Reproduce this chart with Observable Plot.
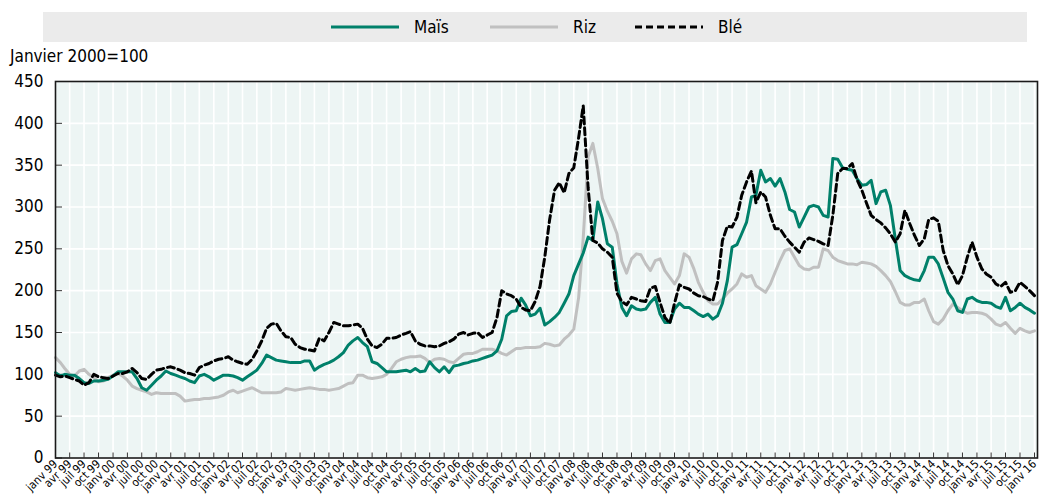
<!DOCTYPE html>
<html>
<head>
<meta charset="utf-8">
<script src="https://cdn.jsdelivr.net/npm/d3@7"></script>
<script src="https://cdn.jsdelivr.net/npm/@observablehq/plot@0.6"></script>
<style>
  body { margin: 0; background: #fff; }
  #wrap { position: relative; width: 1044px; height: 503px; overflow: hidden;
          font-family: "Liberation Sans Narrow", "Arial Narrow", "DejaVu Sans Condensed", sans-serif; }
  #legend { position: absolute; left: 43px; top: 12px; width: 984px; height: 30px; background: #ebebeb; }
  .item { position: absolute; top: 0; height: 30px; display: flex; align-items: center; font-size: 17px; color: #000; }
  .item svg { margin-right: 15px; }
  #unit { position: absolute; left: 10px; top: 46px; font-size: 17px; color: #000; }
  #chart { position: absolute; left: 0; top: 42px; }
</style>
</head>
<body>
<div id="wrap">
  <div id="legend"></div>
  <div id="unit">Janvier 2000=100</div>
  <div id="chart"></div>
</div>
<script>
// ---- Data (monthly, janv 1999 .. janv 2016), Janvier 2000 = 100 ----
const seriesNames = ["Maïs", "Riz", "Blé"];
const seriesColors = ["#00806a", "#c0c0c0", "#000000"];

const mais = [
  102, 98, 100, 99, 99, 95, 90, 89, 92, 92, 93, 94,        // 1999
  98, 103, 103, 103, 103, 95, 84, 81, 87, 93, 98, 104,      // 2000
  101, 99, 97, 95, 92, 90, 98, 100, 97, 93, 96, 99,         // 2001
  99, 98, 96, 93, 97, 101, 105, 113, 123, 120, 117, 116,    // 2002
  115, 114, 114, 114, 116, 116, 105, 109, 112, 114, 117, 121, // 2003
  126, 135, 140, 144, 138, 133, 115, 113, 108, 103, 103, 103, // 2004
  104, 105, 103, 107, 103, 104, 115, 108, 103, 109, 102, 110, // 2005
  111, 113, 114, 116, 117, 119, 121, 123, 128, 142, 170, 175, // 2006
  176, 191, 183, 170, 172, 179, 159, 163, 168, 174, 185, 196, // 2007
  218, 232, 245, 264, 260, 306, 286, 256, 252, 208, 180, 170, // 2008
  182, 178, 177, 178, 186, 192, 172, 162, 162, 178, 185, 180, // 2009
  180, 176, 172, 169, 172, 166, 170, 185, 212, 252, 255, 268, // 2010
  282, 312, 314, 344, 330, 334, 325, 334, 318, 297, 294, 276, // 2011
  288, 300, 302, 300, 290, 288, 358, 357, 347, 345, 344, 334, // 2012
  326, 327, 332, 304, 318, 320, 302, 262, 224, 218, 215, 213, // 2013
  212, 224, 240, 240, 232, 215, 198, 190, 176, 174, 190, 192, // 2014
  188, 186, 186, 185, 181, 179, 192, 176, 180, 185, 180, 177, // 2015
  173                                                          // 2016
];
const riz = [
  120, 114, 107, 100, 98, 104, 106, 100, 96, 91, 92, 96,
  99, 101, 98, 93, 86, 83, 81, 79, 76, 78, 77, 77,
  77, 77, 74, 68, 69, 70, 70, 71, 71, 72, 73, 75,
  79, 81, 78, 80, 82, 84, 81, 78, 78, 78, 78, 79,
  83, 82, 81, 82, 83, 84, 83, 82, 82, 81, 82, 83,
  86, 89, 90, 99, 99, 96, 95, 96, 97, 100, 107, 115,
  118, 120, 121, 121, 122, 119, 114, 118, 119, 118, 115, 114,
  119, 124, 125, 125, 127, 130, 130, 130, 128, 125, 123, 127,
  131, 131, 132, 132, 132, 133, 137, 136, 134, 135, 142, 147,
  154, 192, 263, 360, 376, 346, 310, 295, 283, 268, 235, 221,
  238, 244, 243, 232, 224, 236, 238, 224, 216, 208, 218, 244,
  240, 226, 210, 198, 188, 184, 184, 190, 197, 202, 208, 220,
  216, 218, 206, 202, 198, 208, 222, 236, 248, 250, 240, 230,
  226, 225, 228, 228, 250, 248, 240, 236, 234, 232, 232, 231,
  234, 233, 232, 229, 224, 218, 211, 199, 186, 183, 183, 186,
  186, 190, 176, 163, 160, 166, 176, 184, 180, 176, 173, 174,
  174, 173, 171, 166, 160, 158, 162, 155, 149, 155, 152, 150,
  152
];
const ble = [
  99, 97, 98, 96, 94, 92, 87, 90, 100, 97, 96, 95,
  98, 101, 101, 103, 107, 102, 95, 94, 100, 105, 106, 108,
  109, 107, 105, 102, 101, 99, 108, 111, 113, 116, 118, 119,
  121, 117, 115, 113, 112, 118, 128, 140, 155, 160, 161, 152,
  145, 144, 136, 132, 130, 129, 128, 143, 140, 150, 162, 160,
  158, 158, 159, 160, 155, 142, 134, 132, 136, 143, 143, 144,
  147, 149, 151, 140, 136, 134, 134, 133, 134, 137, 139, 142,
  148, 150, 147, 149, 150, 144, 147, 150, 168, 200, 196, 194,
  190, 180, 177, 176, 187, 205, 240, 285, 320, 329, 317, 340,
  347, 383, 421, 323, 260, 257, 250, 246, 240, 197, 187, 183,
  192, 190, 188, 187, 203, 205, 186, 168, 161, 185, 207, 204,
  202, 197, 194, 193, 190, 188, 210, 260, 277, 276, 288, 314,
  330, 343, 305, 318, 312, 290, 274, 274, 265, 258, 252, 246,
  258, 263, 261, 259, 256, 254, 290, 340, 346, 346, 352, 333,
  320, 304, 290, 285, 281, 275, 268, 258, 268, 296, 280, 266,
  254, 262, 285, 287, 283, 248, 230, 220, 207, 218, 240, 258,
  240, 226, 220, 216, 208, 205, 210, 198, 200, 210, 205, 200,
  194
];
const moisLabels = ["janv", "avr", "juil", "oct"];
const yTicks = [0, 50, 100, 150, 200, 250, 300, 350, 400, 450];

// ---- Layout ----
const FONT = '"Liberation Sans Narrow", "Arial Narrow", "DejaVu Sans Condensed", sans-serif';
const W = 1044, H = 461;
const mTop = 39, mBottom = 45.5, mLeft = 55, mRight = 10;
const plotW = W - mLeft - mRight, plotH = H - mTop - mBottom;

const start = new Date(Date.UTC(1999, 0, 1));
const end = new Date(Date.UTC(2016, 0, 1));
const months = d3.utcMonth.range(start, d3.utcMonth.offset(end, 1));
const quarters = d3.utcMonth.every(3).range(start, d3.utcMonth.offset(end, 1));
const fmt = d => moisLabels[Math.floor(d.getUTCMonth() / 3)] + " " + String(d.getUTCFullYear() % 100).padStart(2, "0");

const chart = Plot.plot({
  width: W, height: H,
  marginTop: mTop, marginBottom: mBottom, marginLeft: mLeft, marginRight: mRight,
  style: { fontFamily: FONT, background: "transparent", overflow: "visible", color: "#000" },
  x: { type: "utc", domain: [start, end] },
  y: { domain: [0, 450] },
  marks: [
    Plot.frame({ fill: "#edf5f4", stroke: null, insetRight: -3 }),
    Plot.gridY(yTicks, { stroke: "#fff", strokeOpacity: 1, strokeWidth: 1.6 }),
    Plot.gridX(quarters, { stroke: "#fff", strokeOpacity: 1, strokeWidth: 1.6 }),
    Plot.tickY(yTicks, { y: d => d, stroke: "#333", strokeWidth: 1, insetRight: plotW - 7 }),
    Plot.tickX(quarters, { x: d => d, stroke: "#333", strokeWidth: 1, insetTop: plotH - 5 }),
    Plot.axisY(yTicks, { tickSize: 0, tickPadding: 12, fontSize: 17, label: null }),
    Plot.axisX(quarters, { tickSize: 0, tickPadding: 4, tickRotate: -45, tickFormat: fmt, fontSize: 11.5, label: null }),
    Plot.lineY(riz, { x: (d, i) => months[i], y: d => d, stroke: seriesColors[1], strokeWidth: 3 }),
    Plot.lineY(mais, { x: (d, i) => months[i], y: d => d, stroke: seriesColors[0], strokeWidth: 3 }),
    Plot.lineY(ble, { x: (d, i) => months[i], y: d => d, stroke: seriesColors[2], strokeWidth: 3, strokeDasharray: "7,4" }),
    Plot.frame({ stroke: "#1a1a1a", strokeWidth: 1.6, insetRight: -3 })
  ]
});
document.getElementById("chart").appendChild(chart);

// ---- Legend ----
const legend = document.getElementById("legend");
const legendLeft = [288, 447, 592];
seriesNames.forEach((name, i) => {
  const it = document.createElement("div");
  it.className = "item";
  it.style.left = legendLeft[i] + "px";
  const dash = i === 2 ? ' stroke-dasharray="7,4"' : "";
  it.innerHTML = `<svg width="68" height="6"><line x1="0" x2="68" y1="3" y2="3" stroke="${seriesColors[i]}" stroke-width="3"${dash}/></svg><span>${name}</span>`;
  legend.appendChild(it);
});
</script>
</body>
</html>
